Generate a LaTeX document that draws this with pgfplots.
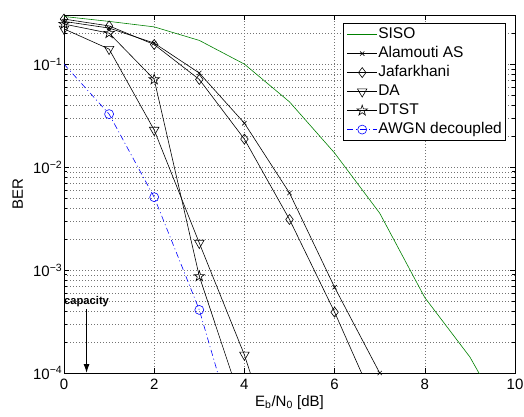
\documentclass[border=0pt]{standalone}
\usepackage{pgfplots}
\pgfplotsset{compat=1.18}
\usepackage{fontspec}
\setmainfont{Liberation Sans}
\usetikzlibrary{arrows.meta}
\pgfdeclareplotmark{pentagram}{%
  \pgfpathmoveto{\pgfpointpolar{90}{\pgfplotmarksize}}%
  \pgfpathlineto{\pgfpointpolar{126}{0.382\pgfplotmarksize}}%
  \pgfpathlineto{\pgfpointpolar{162}{\pgfplotmarksize}}%
  \pgfpathlineto{\pgfpointpolar{198}{0.382\pgfplotmarksize}}%
  \pgfpathlineto{\pgfpointpolar{234}{\pgfplotmarksize}}%
  \pgfpathlineto{\pgfpointpolar{270}{0.382\pgfplotmarksize}}%
  \pgfpathlineto{\pgfpointpolar{306}{\pgfplotmarksize}}%
  \pgfpathlineto{\pgfpointpolar{342}{0.382\pgfplotmarksize}}%
  \pgfpathlineto{\pgfpointpolar{18}{\pgfplotmarksize}}%
  \pgfpathlineto{\pgfpointpolar{54}{0.382\pgfplotmarksize}}%
  \pgfpathclose
  \pgfusepathqstroke
}
\definecolor{mgreen}{rgb}{0,0.5,0}
\begin{document}
\begin{tikzpicture}[font=\fontsize{15bp}{18bp}\selectfont]
\useasboundingbox (-64bp,-44bp) rectangle (460bp,373bp);
\begin{axis}[
  at={(0,0)}, anchor=south west,
  scale only axis, width=451bp, height=358bp,
  xmin=0, xmax=10, ymin=1e-4, ymax=0.3,
  ymode=log,
  xtick={0,2,4,6,8,10},
  xticklabels={0,2,4,6,8,10},
  ytick={1e-4,1e-3,1e-2,1e-1},
  yticklabels={10\textsuperscript{−4},10\textsuperscript{−3},10\textsuperscript{−2},10\textsuperscript{−1}},
  minor ytick={2e-4,3e-4,4e-4,5e-4,6e-4,7e-4,8e-4,9e-4,2e-3,3e-3,4e-3,5e-3,6e-3,7e-3,8e-3,9e-3,2e-2,3e-2,4e-2,5e-2,6e-2,7e-2,8e-2,9e-2,2e-1},
  tick pos=both, tick align=inside,
  major tick length=5bp, minor tick length=3bp,
  tick style={black, line width=0.6bp},
  xmajorgrids, ymajorgrids, yminorgrids,
  major grid style={black!55, line width=0.5bp, dash pattern=on 1bp off 2bp},
  minor grid style={black!55, line width=0.5bp, dash pattern=on 1bp off 2bp},
  axis line style={black, line width=1bp},
  xticklabel style={yshift=-3bp},
  yticklabel style={inner xsep=1.5bp},
  xlabel={E\textsubscript{b}/N\textsubscript{0} [dB]},
  ylabel={BER},
  xlabel style={at={(axis description cs:0.5,0)}, anchor=base, yshift=-33bp},
  ylabel style={at={(axis description cs:-0.091,0.5)}, anchor=base, rotate=0},
  legend style={at={(rel axis cs:0.980,0.978)}, anchor=north east,
    draw=black, line width=0.8bp, inner xsep=3bp, inner ysep=3bp,
    font=\fontsize{15.5bp}{18bp}\selectfont,
    nodes={inner sep=0.8bp, text height=11.5bp, text depth=3.5bp},
    row sep=2.4bp},
  legend cell align=left,
  legend image code/.code={\draw[mark repeat=2,mark phase=2,#1] plot coordinates {(0bp,0bp) (15bp,0bp) (30bp,0bp)};},
  every axis plot/.append style={line width=0.6bp},
]
\addplot[mgreen, no marks] coordinates {(0,0.29)(1,0.26)(2,0.23)(3,0.17)(4,0.10)(5,0.043)(6,0.0137)(7,0.00357)(8,0.00054)(9,0.000143)(10,0.000024)};
\addlegendentry{SISO}
\addplot[black, mark=x, mark size=3bp, mark options={solid}] coordinates {(0,0.26)(1,0.224)(2,0.16)(3,0.082)(4,0.0267)(5,0.0056)(6,0.00068)(7,0.0001)};
\addlegendentry{Alamouti AS}
\addplot[black, mark=diamond, mark size=5bp, mark options={solid}] coordinates {(0,0.274)(1,0.235)(2,0.155)(3,0.071)(4,0.0187)(5,0.0031)(6,0.00039)(7,0.00004)};
\addlegendentry{Jafarkhani}
\addplot[black, mark=triangle, mark size=5.5bp, mark options={solid, rotate=180}] coordinates {(0,0.22)(1,0.14)(2,0.0229)(3,0.00183)(4,0.00015)(5,0.0000068)};
\addlegendentry{DA}
\addplot[black, mark=pentagram, mark size=5.5bp, mark options={solid}] coordinates {(0,0.245)(1,0.2)(2,0.071)(3,0.00087)(4,0.000042)};
\addlegendentry{DTST}
\addplot[blue, no marks, dash pattern=on 6bp off 3bp on 1bp off 3bp, forget plot] coordinates {(0,0.1)(1,0.0327)(2,0.0051)(3,0.00041)(4,0.000013)};
\addplot[blue, only marks, mark=o, mark size=4.5bp, forget plot] coordinates {(1,0.0327)(2,0.0051)(3,0.00041)};
\addlegendimage{blue, dash pattern=on 6bp off 3bp on 1bp off 3bp, mark=o, mark size=4.5bp, mark options={solid}, line width=0.6bp}
\addlegendentry{AWGN decoupled}
\node[font=\fontsize{11.2bp}{13bp}\selectfont\bfseries, anchor=base] at (axis cs:0.5,4.6e-4) {capacity};
\draw[-{Latex[length=9bp,width=6bp]}, line width=1bp] (axis cs:0.5,4.2e-4) -- (axis cs:0.5,1e-4);
\end{axis}
\end{tikzpicture}
\end{document}
